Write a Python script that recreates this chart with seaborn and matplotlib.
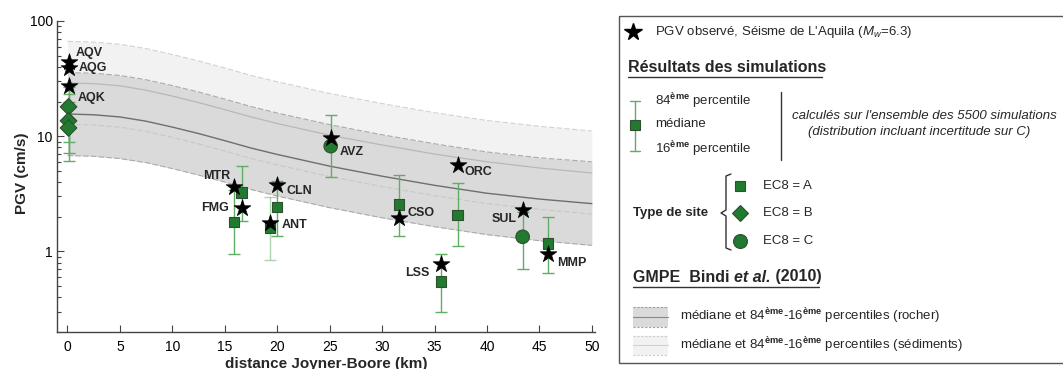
import numpy as np
import pandas as pd
import seaborn as sns
import matplotlib.pyplot as plt
from matplotlib.patches import Rectangle
from matplotlib.ticker import LogLocator, NullFormatter, FixedLocator, FixedFormatter

# GMPE Bindi et al. (2010)
dist_gmpe = [0, 2.5, 5, 7.5, 10, 12.5, 15, 17.5, 20, 25, 30, 35, 40, 45, 50]
roche_med = [15.6, 15.35, 14.7, 13.5, 12.0, 10.55, 9.15, 7.9, 6.95, 5.5, 4.5, 3.75, 3.2, 2.85, 2.6]
roche_p84 = [35.7, 35.2, 33.7, 30.9, 27.5, 24.2, 21.0, 18.1, 15.9, 12.6, 10.3, 8.6, 7.3, 6.5, 6.0]
roche_p16 = [6.8, 6.7, 6.4, 5.9, 5.24, 4.6, 4.0, 3.45, 3.03, 2.4, 1.96, 1.64, 1.40, 1.24, 1.13]
sed_med = [29.0, 28.6, 27.4, 25.1, 22.3, 19.6, 17.0, 14.7, 12.9, 10.2, 8.4, 7.0, 6.0, 5.3, 4.8]
sed_p84 = [66.6, 65.5, 62.8, 57.6, 51.2, 45.0, 39.1, 33.7, 29.7, 23.5, 19.2, 16.0, 13.7, 12.2, 11.1]
sed_p16 = [12.7, 12.5, 12.0, 11.0, 9.76, 8.58, 7.44, 6.42, 5.65, 4.47, 3.66, 3.05, 2.6, 2.32, 2.11]

# stations
stations = ['AQV', 'AQG', 'AQK', 'MTR', 'FMG', 'CLN', 'ANT', 'AVZ', 'CSO', 'ORC', 'LSS', 'SUL', 'MMP']
dist_jb = [0.1, 0.1, 0.1, 15.9, 16.6, 20.0, 19.3, 25.1, 31.6, 37.2, 35.6, 43.4, 45.8]
pgv_obs = [44, 39, 27.5, 3.65, 2.36, 3.75, 1.77, 9.65, 1.96, 5.66, 0.78, 2.31, 0.96]
site = ['B', 'B', 'B', 'A', 'A', 'A', 'A', 'C', 'A', 'A', 'A', 'C', 'A']
sim_med = [18, 13.6, 11.8, 1.81, 3.24, 2.42, 1.61, 8.2, 2.55, 2.06, 0.55, 1.34, 1.17]
sim_p84 = [23.3, 27, 20, 3.4, 5.5, 4.12, 2.94, 15.4, 4.6, 3.93, 0.96, 2.2, 2.0]
sim_p16 = [9.0, 7.2, 6.1, 0.96, 1.85, 1.35, 0.85, 4.46, 1.37, 1.11, 0.30, 0.70, 0.65]

# decalage des etiquettes (points)
lab_off = {'AQV': (5, 6.5, 'left'), 'AQG': (7, 0, 'left'), 'AQK': (6.5, -8.6, 'left'),
           'MTR': (-3, 8, 'right'), 'FMG': (-9, 0, 'right'), 'CLN': (6.5, -4.3, 'left'),
           'ANT': (8.6, -1.4, 'left'), 'AVZ': (6.5, -10, 'left'), 'CSO': (6.5, 3.6, 'left'),
           'ORC': (5, -5, 'left'), 'LSS': (-8, -6.5, 'right'), 'SUL': (-4.3, -6.5, 'right'),
           'MMP': (6.5, -6.5, 'left')}

sns.set_style('ticks')
plt.rcParams['font.family'] = ['Liberation Sans', 'DejaVu Sans']
plt.rcParams['mathtext.fontset'] = 'custom'
plt.rcParams['mathtext.rm'] = 'Liberation Sans'
plt.rcParams['mathtext.it'] = 'Liberation Sans:italic'
plt.rcParams['mathtext.bf'] = 'Liberation Sans:bold'

vert = '#217a30'
vert_bord = '#2f4f2f'
vert_barre = '#62ad66'

fig = plt.figure(figsize=(10.63, 3.69), dpi=100)
ax = fig.add_axes([57/1063, 1-332/369, (595-57)/1063, (332-21)/369])

# bandes GMPE
ax.fill_between(dist_gmpe, sed_p16, sed_p84, color='#f2f2f2', lw=0, zorder=1)
ax.fill_between(dist_gmpe, roche_p16, roche_p84, color='#dadada', lw=0, zorder=1.1)
ax.plot(dist_gmpe, sed_p84, ls=(0, (5, 2)), color='#d2d2d2', lw=0.8, zorder=1.5)
ax.plot(dist_gmpe, sed_p16, ls=(0, (5, 2)), color='#c8c8c8', lw=0.8, zorder=1.5)
ax.plot(dist_gmpe, sed_med, color='#b8b8b8', lw=0.9, zorder=1.5)
ax.plot(dist_gmpe, roche_p84, ls=(0, (5, 2)), color='#ababab', lw=0.8, zorder=1.6)
ax.plot(dist_gmpe, roche_p16, ls=(0, (5, 2)), color='#ababab', lw=0.8, zorder=1.6)
sns.lineplot(x=dist_gmpe, y=roche_med, color='#6e6e6e', lw=1, ax=ax, zorder=1.7)

# barres d'erreur des simulations
for i in range(len(stations)):
    a = 0.5 if stations[i] == 'ANT' else 1.0
    ax.errorbar(dist_jb[i], sim_med[i],
                yerr=[[sim_med[i]-sim_p16[i]], [sim_p84[i]-sim_med[i]]],
                fmt='none', ecolor=vert_barre, elinewidth=1, capsize=4.5, capthick=1,
                alpha=a, zorder=3)

df_sim = pd.DataFrame({'dist': dist_jb, 'med': sim_med, 'site': site})
sns.scatterplot(data=df_sim, x='dist', y='med', style='site', size='site',
                markers={'A': 's', 'B': 'D', 'C': 'o'}, sizes={'A': 55, 'B': 72, 'C': 95},
                color=vert, edgecolor=vert_bord, linewidth=0.8, legend=False, ax=ax, zorder=4)

df_obs = pd.DataFrame({'dist': dist_jb, 'pgv': pgv_obs, 'station': stations})
sns.scatterplot(data=df_obs, x='dist', y='pgv', marker='*', s=160, color='k',
                edgecolor='k', linewidth=0.5, legend=False, ax=ax, zorder=5)

for s, d, p in zip(stations, dist_jb, pgv_obs):
    dx, dy, ha = lab_off[s]
    ax.annotate(s, xy=(d, p), xytext=(dx, dy), textcoords='offset points',
                ha=ha, va='center', fontsize=9, fontweight='bold', zorder=6)

ax.set_yscale('log')
ax.set_ylim(0.2, 100)
ax.set_xlim(-1, 50.3)
ax.set_xticks(range(0, 51, 5))
ax.yaxis.set_major_locator(FixedLocator([1, 10, 100]))
ax.yaxis.set_major_formatter(FixedFormatter(['1', '10', '100']))
ax.yaxis.set_minor_locator(LogLocator(base=10, subs=np.arange(2, 10)))
ax.yaxis.set_minor_formatter(NullFormatter())
ax.tick_params(which='both', direction='in', colors='#444444', labelcolor='k', labelsize=10)
ax.tick_params(which='major', length=5, width=0.8)
ax.tick_params(which='minor', length=3, width=0.8)
ax.tick_params(axis='y', pad=3)
ax.tick_params(axis='x', pad=6)
sns.despine(ax=ax)
for sp in ['left', 'bottom']:
    ax.spines[sp].set_color('#444444')
    ax.spines[sp].set_linewidth(1)
ax.set_xlabel('distance Joyner-Boore (km)', fontsize=11, fontweight='bold')
ax.set_ylabel('PGV (cm/s)', fontsize=11, fontweight='bold')
ax.xaxis.set_label_coords(0.5, (332-357)/311)
ax.yaxis.set_label_coords((29-57)/538, 0.51)

# legende (coordonnees en pixels)
lax = fig.add_axes([0, 0, 1, 1])
lax.set_xlim(0, 1063)
lax.set_ylim(369, 0)
lax.axis('off')
lax.add_patch(Rectangle((619, 16), 470, 347, fill=False, ec='#555555', lw=1))

fs = 9.5
lax.plot(633, 32, '*', ms=13, color='k')
lax.text(655, 32, "PGV observé, Séisme de L'Aquila ($M_w$=6.3)", va='center', fontsize=fs)

lax.text(628, 67, 'Résultats des simulations', va='center', fontsize=11.5, fontweight='bold')
lax.plot([628, 822], [77, 77], color='#333333', lw=1)
lax.plot([635, 635], [101, 151], color=vert_barre, lw=1)
lax.plot([630, 640], [101, 101], color=vert_barre, lw=1)
lax.plot([630, 640], [151, 151], color=vert_barre, lw=1)
lax.plot(635, 125, 's', ms=7.5, color=vert, mec=vert_bord, mew=0.8)
lax.text(655, 101, r'84$^{\mathbf{ème}}$ percentile', va='center', fontsize=fs)
lax.text(655, 124, 'médiane', va='center', fontsize=fs)
lax.text(655, 149, r'16$^{\mathbf{ème}}$ percentile', va='center', fontsize=fs)
lax.plot([781, 781], [92, 160], color='#333333', lw=1)
lax.text(792, 116, "calculés sur l'ensemble des 5500 simulations", va='center',
         fontsize=9.5, style='italic')
lax.text(808, 132, '(distribution incluant incertitude sur C)', va='center',
         fontsize=9.5, style='italic')

lax.text(633, 213, 'Type de site', va='center', fontsize=fs, fontweight='bold')
lax.plot([731, 726, 726, 721, 726, 726, 731], [174, 176, 210, 213, 216, 248, 250],
         color='#333333', lw=1)
lax.plot(740, 186, 's', ms=7.5, color=vert, mec=vert_bord, mew=0.8)
lax.plot(740, 213, 'D', ms=8.5, color=vert, mec=vert_bord, mew=0.8)
lax.plot(740, 241, 'o', ms=10, color=vert, mec=vert_bord, mew=0.8)
lax.text(763, 186, 'EC8 = A', va='center', fontsize=fs)
lax.text(763, 213, 'EC8 = B', va='center', fontsize=fs)
lax.text(763, 241, 'EC8 = C', va='center', fontsize=fs)

t1 = lax.text(633, 277, 'GMPE  Bindi ', va='center', fontsize=11.5, fontweight='bold')
t2 = lax.annotate('et al.', xy=(1, 0.5), xycoords=t1, va='center', ha='left',
                  fontsize=11.5, fontweight='bold', style='italic')
lax.annotate(' (2010)', xy=(1, 0.5), xycoords=t2, va='center', ha='left',
             fontsize=11.5, fontweight='bold')
lax.plot([633, 819], [287, 287], color='#333333', lw=1)

lax.add_patch(Rectangle((633, 307), 35, 20, fc='#dadada', ec='none'))
lax.plot([633, 668], [307, 307], ls=(0, (2, 1.5)), color='#a0a0a0', lw=0.8)
lax.plot([633, 668], [327, 327], ls=(0, (2, 1.5)), color='#a0a0a0', lw=0.8)
lax.plot([633, 668], [317, 317], color='#888888', lw=0.8)
lax.text(680, 316, r'médiane et 84$^{\mathbf{ème}}$-16$^{\mathbf{ème}}$ percentiles (rocher)',
         va='center', fontsize=fs)
lax.add_patch(Rectangle((633, 336), 35, 19, fc='#f2f2f2', ec='none'))
lax.plot([633, 668], [336, 336], ls=(0, (2, 1.5)), color='#cccccc', lw=0.8)
lax.plot([633, 668], [355, 355], ls=(0, (2, 1.5)), color='#cccccc', lw=0.8)
lax.plot([633, 668], [345, 345], color='#d0d0d0', lw=0.8)
lax.text(680, 345, r'médiane et 84$^{\mathbf{ème}}$-16$^{\mathbf{ème}}$ percentiles (sédiments)',
         va='center', fontsize=fs)

fig.savefig('out.png', dpi=100)
